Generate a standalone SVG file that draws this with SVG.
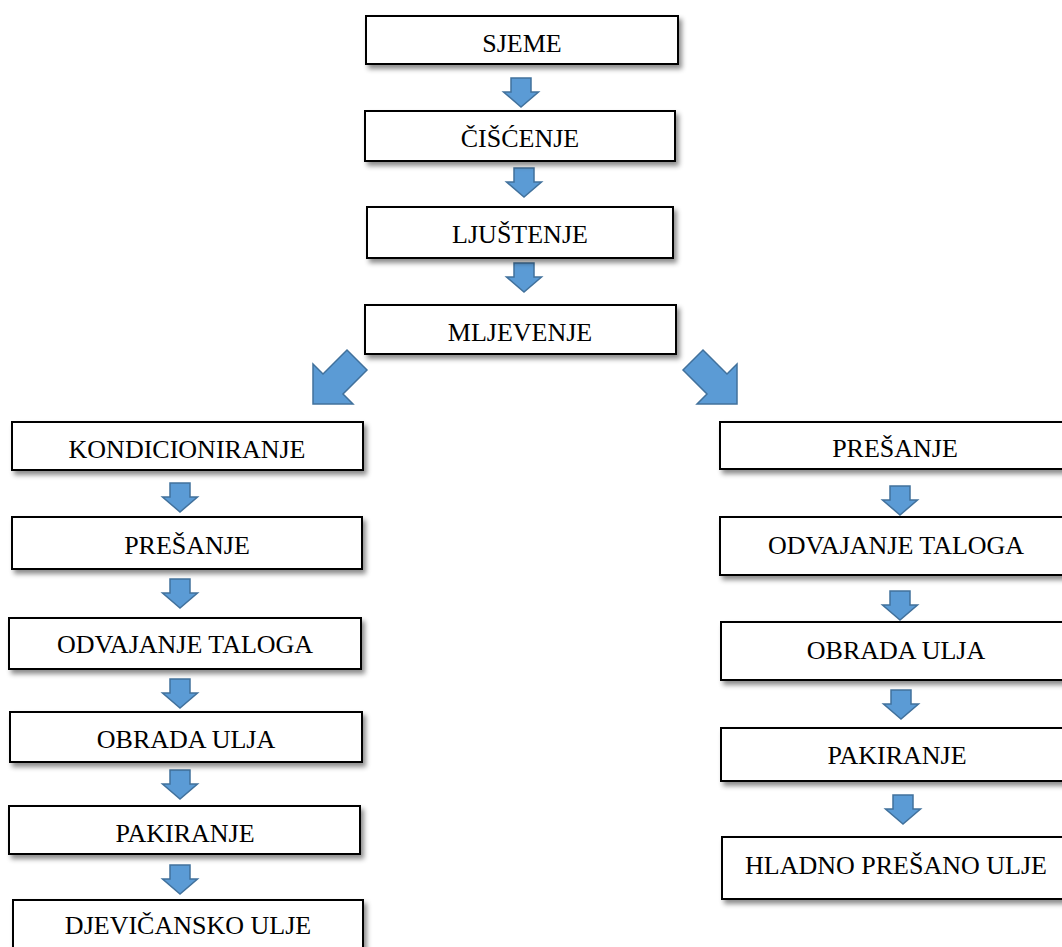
<svg xmlns="http://www.w3.org/2000/svg" width="1062" height="947" viewBox="0 0 1062 947">
  <defs>
    <filter id="sh" x="-10%" y="-30%" width="125%" height="180%">
      <feDropShadow dx="3" dy="4" stdDeviation="2.5" flood-color="#000" flood-opacity="0.45"/>
    </filter>
    <path id="arr" d="M-10,0 H10 V14 H17.5 L0,29 L-17.5,14 H-10 Z"/>
  </defs>
  <style>
    .box { fill: #ffffff; stroke: #000000; stroke-width: 2; filter: url(#sh); }
    .lbl { font-family: "Liberation Serif", "Times New Roman", serif; font-size: 26px; fill: #000000; text-anchor: middle; }
    .ar { fill: #5b9bd5; stroke: #41719c; stroke-width: 1.5; stroke-linejoin: miter; }
  </style>
  <rect width="1062" height="947" fill="#ffffff"/>

  <g id="connectors">
    <use href="#arr" class="ar" x="521" y="78"/>
    <use href="#arr" class="ar" x="524" y="168"/>
    <use href="#arr" class="ar" x="524" y="263"/>
    <polygon class="ar" points="313,404 313,364 323,374 347,350 367,370 343,394 353,404"/>
    <polygon class="ar" points="737,404 737,364 727,374 703,350 683,370 707,394 697,404"/>
    <use href="#arr" class="ar" x="180" y="483"/>
    <use href="#arr" class="ar" x="180" y="579"/>
    <use href="#arr" class="ar" x="180" y="679"/>
    <use href="#arr" class="ar" x="180" y="770"/>
    <use href="#arr" class="ar" x="180" y="865"/>
    <use href="#arr" class="ar" x="900" y="486"/>
    <use href="#arr" class="ar" x="900" y="591"/>
    <use href="#arr" class="ar" x="901" y="690"/>
    <use href="#arr" class="ar" x="903" y="795"/>
  </g>

  <g id="n-sjeme"><rect class="box" x="366" y="16" width="312" height="48"/><text class="lbl" x="522" y="52">SJEME</text></g>
  <g id="n-ciscenje"><rect class="box" x="365" y="111" width="310" height="50"/><text class="lbl" x="520" y="147">ČIŠĆENJE</text></g>
  <g id="n-ljustenje"><rect class="box" x="367" y="207" width="306" height="51"/><text class="lbl" x="520" y="243">LJUŠTENJE</text></g>
  <g id="n-mljevenje"><rect class="box" x="365" y="305" width="311" height="49"/><text class="lbl" x="520" y="341">MLJEVENJE</text></g>

  <g id="n-kondicioniranje"><rect class="box" x="12" y="422" width="351" height="48"/><text class="lbl" x="187" y="458">KONDICIONIRANJE</text></g>
  <g id="n-presanje-l"><rect class="box" x="12" y="517" width="350" height="52"/><text class="lbl" x="187" y="554">PREŠANJE</text></g>
  <g id="n-odvajanje-l"><rect class="box" x="9" y="618" width="352" height="51"/><text class="lbl" x="185" y="653">ODVAJANJE TALOGA</text></g>
  <g id="n-obrada-l"><rect class="box" x="10" y="712" width="352" height="50"/><text class="lbl" x="186" y="748">OBRADA ULJA</text></g>
  <g id="n-pakiranje-l"><rect class="box" x="9" y="806" width="351" height="48"/><text class="lbl" x="185" y="842">PAKIRANJE</text></g>
  <g id="n-djevicansko"><rect class="box" x="13" y="900" width="350" height="60"/><text class="lbl" x="188" y="934">DJEVIČANSKO ULJE</text></g>

  <g id="n-presanje-r"><rect class="box" x="720" y="422" width="352" height="47"/><text class="lbl" x="895" y="457">PREŠANJE</text></g>
  <g id="n-odvajanje-r"><rect class="box" x="720" y="517" width="352" height="58"/><text class="lbl" x="896" y="554">ODVAJANJE TALOGA</text></g>
  <g id="n-obrada-r"><rect class="box" x="721" y="622" width="351" height="58"/><text class="lbl" x="896" y="659">OBRADA ULJA</text></g>
  <g id="n-pakiranje-r"><rect class="box" x="721" y="728" width="351" height="53"/><text class="lbl" x="897" y="764">PAKIRANJE</text></g>
  <g id="n-hladno"><rect class="box" x="722" y="837" width="350" height="62"/><text class="lbl" x="896" y="874">HLADNO PREŠANO ULJE</text></g>
</svg>
